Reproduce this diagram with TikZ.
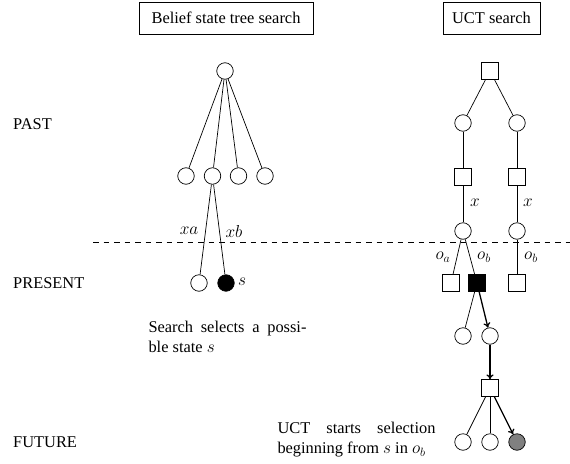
\documentclass[tikz,border=0pt]{standalone}
\usepackage{amsmath}
\usepackage{fontspec}
\setmainfont{Liberation Serif}
\usetikzlibrary{arrows.meta}
\begin{document}
\begin{tikzpicture}[x=1pt,y=-1pt,font=\fontsize{16.4}{20}\selectfont,
  cnode/.style={circle,draw,line width=0.7pt,minimum size=16.5pt,inner sep=0pt},
  snode/.style={rectangle,draw,line width=0.7pt,minimum size=16.5pt,inner sep=0pt},
  edge/.style={line width=0.7pt},
  sel/.style={line width=1.3pt,-{To[length=5pt,width=7pt]}},
  titlebox/.style={draw,line width=0.7pt,minimum height=32pt,inner sep=2pt},
  lbl/.style={inner sep=1pt},
  captext/.style={text width=158pt,align=justify,inner sep=0pt},
  side/.style={anchor=west,inner sep=0pt}]
\useasboundingbox (0,0) rectangle (570,463);

% titles
\node[titlebox,minimum width=174pt] (t1) at (226,18) {Belief state tree search};
\node[titlebox,minimum width=97pt] (t2) at (491.5,18) {UCT search};

% time labels
\node[side] (past) at (13,124) {PAST};
\node[side] (present) at (13,283) {PRESENT};
\node[side] (future) at (13,442) {FUTURE};

% dashed separator
\coordinate (d1) at (93,242.5);
\coordinate (d2) at (570,242.5);
\draw[line width=0.7pt,dash pattern=on 5.5pt off 5pt] (d1) -- (d2);

% belief state tree
\node[cnode] (r) at (225,71) {};
\node[cnode] (c1) at (186,176) {};
\node[cnode] (c2) at (212.5,176) {};
\node[cnode] (c3) at (238.5,176) {};
\node[cnode] (c4) at (265,176) {};
\node[cnode] (p1) at (199,283) {};
\node[cnode,fill=black] (p2) at (226,283) {};
\foreach \c in {c1,c2,c3,c4} \draw[edge] (r) -- (\c);
\draw[edge] (c2) -- (p1);
\draw[edge] (c2) -- (p2);
\node[lbl] (lxa) at (189,231) {$xa$};
\node[lbl] (lxb) at (234,231) {$xb$};
\node[lbl,anchor=west] (ls) at (237,282) {$s$};
\node[captext] (cap1) at (227.5,337) {Search selects a possi-\linebreak ble state $s$};

% UCT tree
\node[snode] (u0) at (490,71) {};
\node[cnode] (u1) at (463,123) {};
\node[cnode] (u2) at (517,123) {};
\node[snode] (u3) at (463,177) {};
\node[snode] (u4) at (517,177) {};
\node[cnode] (u5) at (463,231) {};
\node[cnode] (u6) at (517,231) {};
\node[snode] (u7) at (451,283) {};
\node[snode,fill=black] (u8) at (477,283) {};
\node[snode] (u9) at (517,283) {};
\node[cnode] (u10) at (463,336) {};
\node[cnode] (u11) at (490,336) {};
\node[snode] (u12) at (490,388) {};
\node[cnode] (u13) at (463,442) {};
\node[cnode] (u14) at (490,442) {};
\node[cnode,fill=black!50] (u15) at (517,442) {};

\draw[edge] (u0) -- (u1);
\draw[edge] (u0) -- (u2);
\draw[edge] (u1) -- (u3);
\draw[edge] (u2) -- (u4);
\draw[edge] (u3) -- (u5);
\draw[edge] (u4) -- (u6);
\draw[edge] (u5) -- (u7);
\draw[edge] (u5) -- (u8);
\draw[edge] (u6) -- (u9);
\draw[edge] (u8) -- (u10);
\draw[sel] (u8) -- (u11);
\draw[sel] (u11) -- (u12);
\draw[edge] (u12) -- (u13);
\draw[edge] (u12) -- (u14);
\draw[sel] (u12) -- (u15);

\node[lbl] (lx1) at (475,203) {$x$};
\node[lbl] (lx2) at (528,203) {$x$};
\node[lbl] (loa) at (443,257) {$o_a$};
\node[lbl] (lob1) at (484,257) {$o_b$};
\node[lbl] (lob2) at (531,257) {$o_b$};

\node[captext] (cap2) at (356.5,440) {UCT starts selection\linebreak beginning from $s$ in $o_b$};
\end{tikzpicture}
\end{document}
